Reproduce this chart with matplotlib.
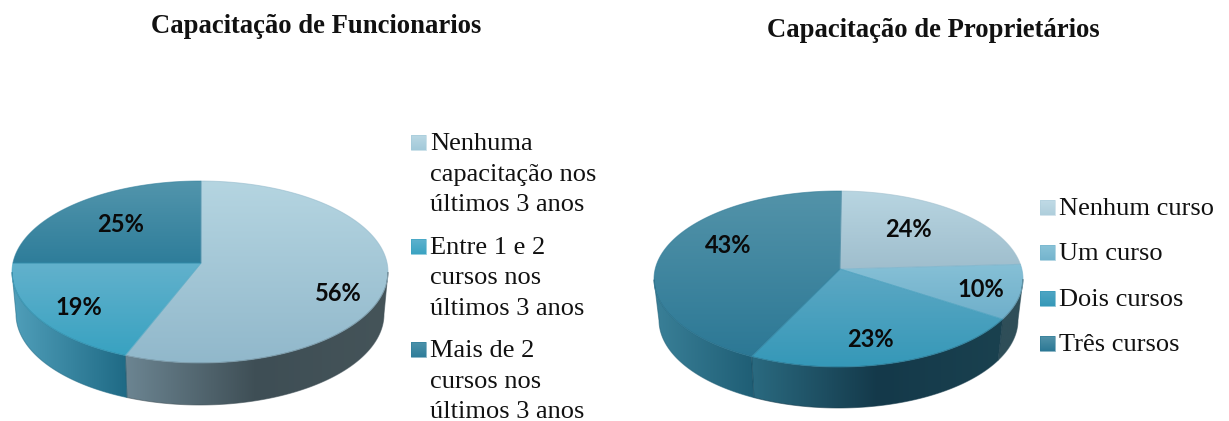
# -*- coding: utf-8 -*-
# Two 3D looking pies, drawn in pixel coordinates of the figure
import numpy as np
import matplotlib
matplotlib.use("Agg")
import matplotlib.pyplot as plt
from matplotlib.colors import LinearSegmentedColormap
from matplotlib.patches import Polygon

# Data
titles = ["Capacitação de Funcionarios", "Capacitação de Proprietários"]
func_labels = ["Nenhuma\ncapacitação nos\núltimos 3 anos",
               "Entre 1 e 2\ncursos nos\núltimos 3 anos",
               "Mais de 2\ncursos nos\núltimos 3 anos"]
func_values = [56, 19, 25]
prop_labels = ["Nenhum curso", "Um curso", "Dois cursos", "Três cursos"]
prop_values = [24, 10, 23, 43]

# Colours: top surface (top to bottom), wall (left to right)
func_top = [["#B5D5E1", "#91B8CB"], ["#62B1CC", "#38A2C1"], ["#5295AC", "#2E7D9A"]]
func_wall = [["#6C8592", "#3E4E55", "#455459"], ["#509FBA", "#1F6A85"], ["#3E8199", "#3E8199"]]
prop_top = [["#B8D5E1", "#9FBECD"], ["#86C0D6", "#6FAFCA"], ["#5DA8C4", "#3598B8"], ["#5393A9", "#2C7895"]]
prop_wall = [["#2F4E58", "#2F4E58"], ["#2F4E58", "#2F4E58"], ["#2A6A80", "#14394A", "#1A414F"], ["#3A8098", "#1F5E75"]]
func_leg_cols = [["#BAD8E4", "#A2C9D9"], ["#5FB2CE", "#3AA3C2"], ["#4D92AA", "#2E7D9A"]]
prop_leg_cols = [["#C0DBE6", "#AFCEDC"], ["#8AC3D8", "#74B4CD"], ["#4FA6C4", "#3598B8"], ["#5393A9", "#2C7895"]]

# Layout in pixels
W, H = 1229, 421
func_pie = dict(hub=(201, 263), centre=(200, 272), rx=188, ry=91, depth=42, taper=4, start=0)
prop_pie = dict(hub=(840, 269), centre=(838.5, 279), rx=184.5, ry=88, depth=41, taper=5, start=0.5)
func_pct_pos = [(338, 293.5), (79, 307.5), (121, 224.5)]
prop_pct_pos = [(908, 229.5), (981, 289.5), (870, 339.5), (728, 245.5)]
func_leg_y = [150, 254, 357]
prop_leg_y = [215, 260, 306, 351]

SERIF = "Liberation Serif"

fig = plt.figure(figsize=(W / 100, H / 100), dpi=100)
ax = fig.add_axes([0, 0, 1, 1])
ax.axis("off")


def rim(pie, phi):
    # ray from the hub to the edge of the ellipse, phi clockwise from the top
    hx, hy = pie["hub"]
    cx, cy = pie["centre"]
    rx, ry = pie["rx"], pie["ry"]
    dx, dy = rx * np.sin(phi), -ry * np.cos(phi)
    ox, oy = (hx - cx) / rx, (hy - cy) / ry
    ux, uy = dx / rx, dy / ry
    a = ux**2 + uy**2
    b = 2 * (ox * ux + oy * uy)
    c = ox**2 + oy**2 - 1
    s = (-b + np.sqrt(b**2 - 4 * a * c)) / (2 * a)
    return hx + s * dx, hy + s * dy


def gradient(pts, colours, vertical):
    # fill polygon pts with a linear gradient over its bounding box
    pts = np.asarray(pts)
    cmap = LinearSegmentedColormap.from_list("g", colours)
    ramp = np.linspace(0, 1, 256)
    ramp = ramp[:, None] if vertical else ramp[None, :]
    x0, y0 = pts.min(axis=0)
    x1, y1 = pts.max(axis=0)
    im = ax.imshow(ramp, cmap=cmap, vmin=0, vmax=1, extent=(x0, x1, y1, y0),
                   origin="upper", aspect="auto", interpolation="bilinear", zorder=2)
    im.set_clip_path(Polygon(pts, closed=True, transform=ax.transData))
    # soften the clip edge
    ax.add_patch(Polygon(pts, closed=True, fill=False, lw=0.7, alpha=0.55,
                         edgecolor=colours[len(colours) // 2], zorder=2.5))


def draw_pie(pie, values, top_cols, wall_cols, pct_pos):
    edges = np.radians(np.cumsum([0] + values) * 360.0 / sum(values) + pie["start"])
    cx = pie["centre"][0]
    shrink = (pie["rx"] - pie["taper"]) / pie["rx"]
    # walls first, the bottom ellipse is a bit narrower than the top one
    for i in range(len(values)):
        phi = np.linspace(edges[i], edges[i + 1], 300)
        x, y = rim(pie, phi)
        keep = y >= pie["centre"][1]
        if keep.sum() < 2:
            continue
        x, y = x[keep], y[keep]
        xb = cx + (x - cx) * shrink
        pts = np.vstack([np.c_[x, y], np.c_[xb[::-1], y[::-1] + pie["depth"]]])
        gradient(pts, wall_cols[i], False)
    for i in range(len(values)):
        phi = np.linspace(edges[i], edges[i + 1], 300)
        x, y = rim(pie, phi)
        pts = np.vstack([[pie["hub"]], np.c_[x, y]])
        gradient(pts, top_cols[i], True)
        ax.text(*pct_pos[i], "%d%%" % values[i], family="Lato", weight="bold",
                fontsize=17, ha="center", va="center", color="#0A0A0A", zorder=5)


def draw_legend(labels, ys, cols, sq_x, text_x, pitch=30.5):
    for label, y, c in zip(labels, ys, cols):
        sq = [(sq_x, y - 15), (sq_x + 15, y - 15), (sq_x + 15, y), (sq_x, y)]
        gradient(sq, c, True)
        for k, line in enumerate(label.split("\n")):
            ax.text(text_x, y + k * pitch, line, family=SERIF, fontsize=19,
                    ha="left", va="baseline", color="#111111")


draw_pie(func_pie, func_values, func_top, func_wall, func_pct_pos)
draw_pie(prop_pie, prop_values, prop_top, prop_wall, prop_pct_pos)
draw_legend(func_labels, func_leg_y, func_leg_cols, 411, 430.5)
draw_legend(prop_labels, prop_leg_y, prop_leg_cols, 1040, 1059)

ax.text(316.5, 33, titles[0], family=SERIF, weight="bold", fontsize=19.2, ha="center", va="baseline", color="#111111")
ax.text(933.5, 37, titles[1], family=SERIF, weight="bold", fontsize=19.2, ha="center", va="baseline", color="#111111")

ax.set_xlim(0, W)
ax.set_ylim(H, 0)
fig.savefig("out.png", dpi=100)
